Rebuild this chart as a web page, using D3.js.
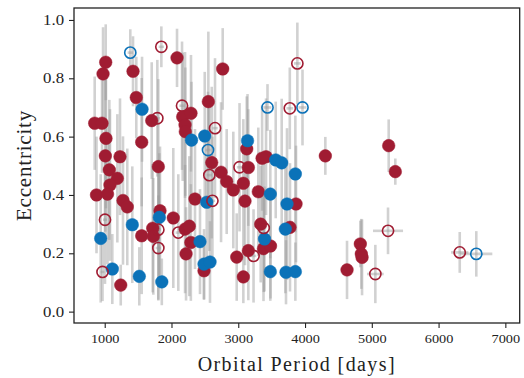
<!DOCTYPE html>
<html>
<head>
<meta charset="utf-8">
<script src="https://cdn.jsdelivr.net/npm/d3@7"></script>
<style>
  body { margin: 0; background: #fff; }
  svg { display: block; }
  text { font-family: "Liberation Serif", "Times New Roman", serif; fill: #222; }
</style>
</head>
<body>
<div id="chart"></div>
<script>
// [period (days), eccentricity, ecc error, period error]
const redFilled = [
  [850, 0.646, 0.16, 30], [960, 0.646, 0.17, 30], [1015, 0.855, 0.13, 30], [975, 0.815, 0.16, 30],
  [1424, 0.824, 0.12, 30], [2083, 0.870, 0.10, 40], [1473, 0.734, 0.14, 30], [1704, 0.655, 0.20, 40],
  [2168, 0.668, 0.22, 40], [2203, 0.640, 0.25, 40], [2207, 0.617, 0.22, 40], [2292, 0.680, 0.20, 40],
  [2552, 0.720, 0.24, 40], [2767, 0.832, 0.14, 40], [2603, 0.511, 0.26, 40], [2742, 0.478, 0.24, 40],
  [3127, 0.558, 0.18, 40], [3151, 0.494, 0.20, 40], [2827, 0.446, 0.18, 40], [3076, 0.440, 0.22, 40],
  [1019, 0.594, 0.24, 30], [1009, 0.534, 0.26, 30], [1229, 0.531, 0.20, 30], [1554, 0.581, 0.22, 30],
  [1069, 0.486, 0.24, 30], [1189, 0.457, 0.22, 30], [1803, 0.497, 0.30, 40], [1079, 0.434, 0.26, 30],
  [877, 0.400, 0.20, 30], [1042, 0.403, 0.24, 30], [1274, 0.381, 0.22, 30], [1338, 0.359, 0.20, 30],
  [1828, 0.346, 0.22, 40], [2027, 0.321, 0.24, 40], [1554, 0.260, 0.20, 30], [1719, 0.286, 0.22, 40],
  [1728, 0.258, 0.20, 40], [2203, 0.283, 0.22, 40], [2267, 0.293, 0.24, 40], [2218, 0.198, 0.16, 40],
  [2290, 0.237, 0.20, 40], [2487, 0.140, 0.10, 40], [2977, 0.187, 0.15, 40], [3076, 0.119, 0.09, 40],
  [3151, 0.209, 0.17, 40], [3101, 0.379, 0.22, 40], [2352, 0.386, 0.24, 40], [2926, 0.417, 0.20, 40],
  [3300, 0.411, 0.22, 40], [3416, 0.531, 0.20, 40], [3357, 0.526, 0.18, 40], [3865, 0.369, 0.20, 40],
  [3336, 0.300, 0.20, 40], [3775, 0.289, 0.22, 40], [3378, 0.216, 0.18, 40], [3483, 0.225, 0.18, 40],
  [4304, 0.534, 0.065, 30], [5253, 0.569, 0.09, 40], [5352, 0.480, 0.045, 40], [4828, 0.232, 0.08, 40],
  [4843, 0.198, 0.12, 40], [4854, 0.186, 0.13, 40], [4629, 0.143, 0.10, 40], [1240, 0.091, 0.07, 30]
];
const blueFilled = [
  [1559, 0.694, 0.18, 30], [2300, 0.588, 0.20, 40], [2498, 0.602, 0.22, 40], [3139, 0.586, 0.16, 40],
  [3561, 0.520, 0.20, 40], [3651, 0.510, 0.22, 40], [3855, 0.472, 0.20, 40], [3480, 0.403, 0.22, 40],
  [3730, 0.369, 0.26, 40], [3705, 0.283, 0.22, 40], [3393, 0.249, 0.18, 40], [3480, 0.137, 0.10, 40],
  [3715, 0.135, 0.11, 40], [3855, 0.137, 0.10, 40], [1413, 0.298, 0.20, 30], [940, 0.251, 0.22, 30],
  [1818, 0.323, 0.22, 40], [2427, 0.240, 0.18, 40], [2528, 0.375, 0.22, 40], [2487, 0.163, 0.12, 40],
  [2577, 0.170, 0.14, 40], [1114, 0.146, 0.12, 30], [1518, 0.121, 0.10, 30], [1855, 0.102, 0.08, 40]
];
const redOpen = [
  [1848, 0.908, 0.07, 40], [2158, 0.706, 0.22, 40], [1788, 0.663, 0.20, 40], [2652, 0.629, 0.24, 40],
  [2567, 0.468, 0.26, 40], [3019, 0.495, 0.22, 40], [3885, 0.851, 0.14, 50], [3772, 0.697, 0.14, 50],
  [1004, 0.315, 0.22, 30], [1803, 0.281, 0.24, 40], [1803, 0.218, 0.18, 40], [2102, 0.271, 0.20, 40],
  [2613, 0.380, 0.22, 40], [3229, 0.191, 0.16, 40], [3381, 0.287, 0.22, 40], [967, 0.136, 0.10, 30],
  [5053, 0.129, 0.10, 125], [5243, 0.277, 0.08, 225], [6317, 0.203, 0.07, 130]
];
const blueOpen = [
  [1383, 0.888, 0.08, 40], [2547, 0.554, 0.20, 40], [3438, 0.700, 0.08, 60],
  [3962, 0.700, 0.13, 60], [6565, 0.198, 0.078, 240]
];
const xTicks = [1000, 2000, 3000, 4000, 5000, 6000, 7000];
const yTicks = [0.0, 0.2, 0.4, 0.6, 0.8, 1.0];

const W = 524, H = 378;
const m = {left: 74, top: 8, right: 4.3, bottom: 55};
const red = "#a01c32", blue = "#0b72b8";

const svg = d3.select("#chart").append("svg").attr("width", W).attr("height", H);

const x = d3.scaleLinear().domain([540, 7215]).range([m.left, W - m.right]);
const y = d3.scaleLinear().domain([-0.039, 1.041]).range([H - m.bottom, m.top]);

const groups = [
  {data: redFilled, color: red, open: false},
  {data: blueFilled, color: blue, open: false},
  {data: redOpen, color: red, open: true},
  {data: blueOpen, color: blue, open: true}
];

// error bars first, all under markers
const bars = svg.append("g").attr("stroke", "#9a9a9a").attr("stroke-opacity", 0.45).attr("stroke-width", 2.6);
groups.forEach(g => {
  bars.selectAll(null).data(g.data).enter().append("line")
    .attr("x1", d => x(d[0])).attr("x2", d => x(d[0]))
    .attr("y1", d => y(d[1] - d[2])).attr("y2", d => y(d[1] + d[2]));
  bars.selectAll(null).data(g.data).enter().append("line")
    .attr("x1", d => x(d[0] - d[3])).attr("x2", d => x(d[0] + d[3]))
    .attr("y1", d => y(d[1])).attr("y2", d => y(d[1]));
});

// markers
groups.forEach(g => {
  svg.append("g").selectAll("circle").data(g.data).enter().append("circle")
    .attr("cx", d => x(d[0]))
    .attr("cy", d => y(d[1]))
    .attr("r", g.open ? 5.6 : 6.3)
    .attr("fill", g.open ? "none" : g.color)
    .attr("stroke", g.color)
    .attr("stroke-width", g.open ? 1.6 : 0.5);
});

// axes
const xAxis = svg.append("g").attr("transform", `translate(0,${H - m.bottom})`)
  .call(d3.axisBottom(x).tickValues(xTicks).tickFormat(d3.format("d")).tickSize(5).tickPadding(6));
xAxis.selectAll("text").attr("font-size", 13).attr("transform", "scale(1.1,1)");

const yAxis = svg.append("g").attr("transform", `translate(${m.left},0)`)
  .call(d3.axisLeft(y).tickValues(yTicks).tickFormat(d3.format(".1f")).tickSize(5).tickPadding(3.3));
yAxis.selectAll("text").attr("font-size", 14).attr("transform", "scale(1.2,1)");

[xAxis, yAxis].forEach(a => {
  a.select(".domain").remove();
  a.selectAll("line").attr("stroke", "#222").attr("stroke-width", 1.1);
  a.selectAll("text").attr("fill", "#222").attr("font-family", "Liberation Serif, serif");
});

svg.append("rect")
  .attr("x", m.left).attr("y", m.top)
  .attr("width", W - m.right - m.left).attr("height", H - m.bottom - m.top)
  .attr("fill", "none").attr("stroke", "#222").attr("stroke-width", 1.3);

svg.append("text")
  .attr("x", (m.left + W - m.right) / 2).attr("y", 370.5)
  .attr("text-anchor", "middle").attr("font-size", 20).attr("letter-spacing", 1.4)
  .text("Orbital Period [days]");

svg.append("text")
  .attr("transform", `translate(30.5,${(m.top + H - m.bottom) / 2}) rotate(-90)`)
  .attr("text-anchor", "middle").attr("font-size", 21).attr("letter-spacing", 0.8)
  .text("Eccentricity");
</script>
</body>
</html>
